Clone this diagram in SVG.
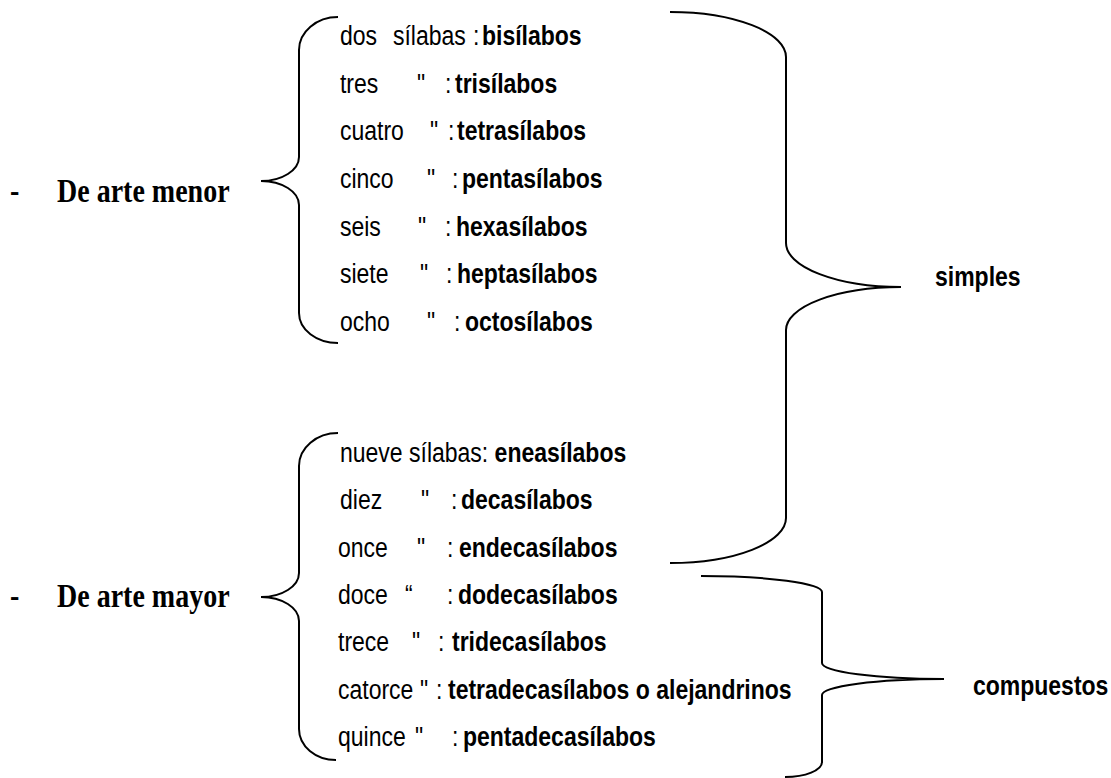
<svg xmlns="http://www.w3.org/2000/svg" width="1111" height="778" viewBox="0 0 1111 778">
<style>
.r{font-family:"Liberation Sans",Arial,sans-serif;font-size:23px;fill:#000}
.b{font-weight:bold}
.t{font-family:"Liberation Serif","Times New Roman",serif;font-size:28px;font-weight:bold;fill:#000}
.br{fill:none;stroke:#000;stroke-width:2}
</style>
<rect width="1111" height="778" fill="#fff"/>
<g id="connectors">
<path class="br" d="M338,17 A39,33 0 0 0 299,50 L299,157 A38,24 0 0 1 261,181 A38,24 0 0 1 299,205 L299,313 A39,30 0 0 0 338,343"/>
<path class="br" d="M338,433 A39,33 0 0 0 299,466 L299,573 A38,24 0 0 1 261,597 A38,24 0 0 1 299,621 L299,729 A37,31 0 0 0 336,760"/>
<path class="br" d="M670,12 A116,45 0 0 1 786,57 L786,243 A115,44 0 0 0 901,287 A115,43 0 0 0 786,330 L786,518 A116,45 0 0 1 670,563"/>
<path class="br" d="M701,576 A121,16 0 0 1 822,592 L822,663 A122,16 0 0 0 944,679 A122,16 0 0 0 822,695 L822,762 A37,15 0 0 1 785,777"/>
</g>
<g id="menor"><text class="t" transform="matrix(1 0 0 1.17 0 202)" y="0"><tspan x="10">-</tspan><tspan x="57">De arte menor</tspan></text></g>
<g id="mayor"><text class="t" transform="matrix(1 0 0 1.17 0 607)" y="0"><tspan x="10">-</tspan><tspan x="57">De arte mayor</tspan></text></g>
<g id="simples"><text class="r b" transform="matrix(1 0 0 1.17 0 286)" x="935" y="0">simples</text></g>
<g id="compuestos"><text class="r b" transform="matrix(1 0 0 1.17 0 695)" x="973" y="0">compuestos</text></g>
<g id="l2"><text class="r" transform="matrix(1 0 0 1.17 0 45)" y="0"><tspan x="340">dos</tspan><tspan x="393">sílabas</tspan><tspan x="473">:</tspan><tspan x="482" class="b">bisílabos</tspan></text></g>
<g id="l3"><text class="r" transform="matrix(1 0 0 1.17 0 92.7)" y="0"><tspan x="340">tres</tspan><tspan x="417">"</tspan><tspan x="445">:</tspan><tspan x="455" class="b">trisílabos</tspan></text></g>
<g id="l4"><text class="r" transform="matrix(1 0 0 1.17 0 140.3)" y="0"><tspan x="340">cuatro</tspan><tspan x="430">"</tspan><tspan x="448">:</tspan><tspan x="457" class="b">tetrasílabos</tspan></text></g>
<g id="l5"><text class="r" transform="matrix(1 0 0 1.17 0 188)" y="0"><tspan x="340">cinco</tspan><tspan x="427">"</tspan><tspan x="452">:</tspan><tspan x="462" class="b">pentasílabos</tspan></text></g>
<g id="l6"><text class="r" transform="matrix(1 0 0 1.17 0 235.7)" y="0"><tspan x="340">seis</tspan><tspan x="418">"</tspan><tspan x="445">:</tspan><tspan x="456" class="b">hexasílabos</tspan></text></g>
<g id="l7"><text class="r" transform="matrix(1 0 0 1.17 0 283.3)" y="0"><tspan x="340">siete</tspan><tspan x="420">"</tspan><tspan x="446">:</tspan><tspan x="457" class="b">heptasílabos</tspan></text></g>
<g id="l8"><text class="r" transform="matrix(1 0 0 1.17 0 331)" y="0"><tspan x="340">ocho</tspan><tspan x="427">"</tspan><tspan x="454">:</tspan><tspan x="465" class="b">octosílabos</tspan></text></g>
<g id="l9"><text class="r" transform="matrix(1 0 0 1.17 0 462)" x="340" y="0">nueve sílabas: <tspan class="b">eneasílabos</tspan></text></g>
<g id="l10"><text class="r" transform="matrix(1 0 0 1.17 0 509.3)" y="0"><tspan x="340">diez</tspan><tspan x="421">"</tspan><tspan x="451">:</tspan><tspan x="461" class="b">decasílabos</tspan></text></g>
<g id="l11"><text class="r" transform="matrix(1 0 0 1.17 0 556.7)" y="0"><tspan x="338">once</tspan><tspan x="417">"</tspan><tspan x="447">:</tspan><tspan x="459" class="b">endecasílabos</tspan></text></g>
<g id="l12"><text class="r" transform="matrix(1 0 0 1.17 0 604)" y="0"><tspan x="338">doce</tspan><tspan x="405">“</tspan><tspan x="447">:</tspan><tspan x="458" class="b">dodecasílabos</tspan></text></g>
<g id="l13"><text class="r" transform="matrix(1 0 0 1.17 0 651.3)" y="0"><tspan x="338">trece</tspan><tspan x="412">"</tspan><tspan x="438">:</tspan><tspan x="452" class="b">tridecasílabos</tspan></text></g>
<g id="l14"><text class="r" transform="matrix(1 0 0 1.17 0 698.7)" y="0"><tspan x="338">catorce</tspan><tspan x="420">"</tspan><tspan x="436">:</tspan><tspan x="448" class="b">tetradecasílabos o alejandrinos</tspan></text></g>
<g id="l15"><text class="r" transform="matrix(1 0 0 1.17 0 746)" y="0"><tspan x="338">quince</tspan><tspan x="415">"</tspan><tspan x="452">:</tspan><tspan x="463" class="b">pentadecasílabos</tspan></text></g>
</svg>
